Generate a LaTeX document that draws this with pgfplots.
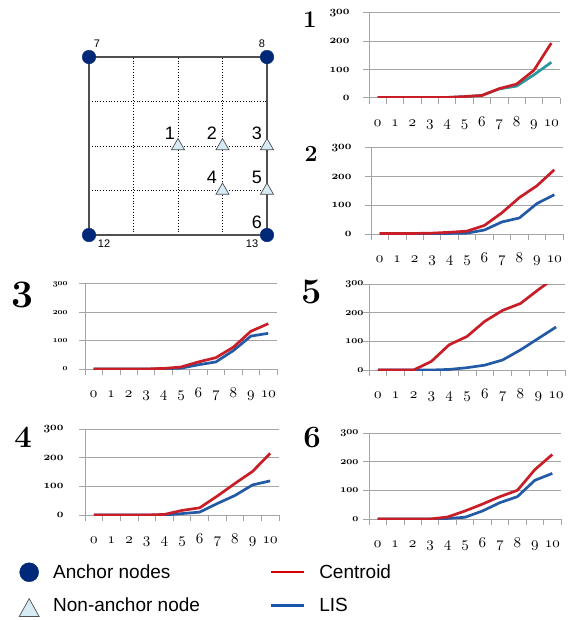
\documentclass[border=0pt]{standalone}
\usepackage{pgfplots}
\pgfplotsset{compat=1.18}
\usepackage{pgfplotstable}
\usepackage{fontspec}
\newfontfamily\arial{Liberation Sans}
\definecolor{cred}{RGB}{200,30,40}
\definecolor{cblue}{RGB}{35,90,165}
\definecolor{cteal}{RGB}{40,150,160}
\definecolor{lred}{RGB}{215,0,0}
\definecolor{lblue}{RGB}{25,85,170}
\definecolor{anch}{RGB}{0,40,120}
\definecolor{trif}{RGB}{215,235,245}
\definecolor{trid}{RGB}{80,80,80}
\definecolor{gridc}{RGB}{165,165,165}
\font\osX=cmmi10 at 15pt
\font\osYa=cmmib10 at 11.5pt
\font\osYc=cmmib10 at 8.5pt
\font\osYe=cmmib10 at 10.5pt

\pgfplotstableread{
x c l
0 2 2
1 2 2
2 2 2
3 2 2
4 2 2
5 5 5
6 9 9
7 33 32
8 49 42
9 98 82
10 194 126
}\dataA
\pgfplotstableread{
x c l
0 2 0
1 2 0
2 2 0
3 3 1
4 6 2
5 10 3
6 30 14
7 74 42
8 127 56
9 168 106
10 224 137
}\dataB
\pgfplotstableread{
x c l
0 0 0
1 0 0
2 0 0
3 0 0
4 2 1
5 7 3
6 25 15
7 40 25
8 77 65
9 133 116
10 160 126
}\dataC
\pgfplotstableread{
x c l
0 0 0
1 0 0
2 0 0
3 0 0
4 2 0
5 16 5
6 25 10
7 66 40
8 110 68
9 152 105
10 215 119
}\dataD
\pgfplotstableread{
x c l
0 0 0
1 0 0
2 0 0
3 30 0
4 88 2
5 117 8
6 170 17
7 208 35
8 232 70
9 280 110
10 325 150
}\dataE
\pgfplotstableread{
x c l
0 0 0
1 0 0
2 0 0
3 0 0
4 7 2
5 28 6
6 52 28
7 78 57
8 100 78
9 172 135
10 225 159
}\dataF

\pgfplotsset{
  panel/.style={
    scale only axis, anchor=south west,
    xmin=-0.5, xmax=10.5, ymin=0, ymax=300,
    axis x line*=bottom, axis y line*=left,
    axis line style={-, gridc, line width=1pt},
    xtick={0,...,10},
    xticklabels={0,1,2,3,4,5,6,7,8,9,10},
    minor xtick={-0.5,0.5,...,10.5},
    ytick={0,100,200,300},
    yticklabels={0,100,200,300},
    tick align=outside, major tick length=6pt, minor tick length=6pt,
    major x tick style={draw=none},
    minor x tick style={gridc, line width=0.8pt},
    major y tick style={gridc, line width=1pt},
    ymajorgrids, grid style={gridc, line width=1pt},
    xticklabel style={font=\osX, text height=7pt, text depth=3pt, yshift=-12pt},
    line join=round,
  },
  cen/.style={cred, line width=2.7pt},
  lis/.style={cblue, line width=2.7pt},
}

\begin{document}
\begin{tikzpicture}
\path[use as bounding box] (0pt,0pt) rectangle (569pt,-620pt);

% ---------- grid diagram ----------
\begin{axis}[at={(89pt,-235pt)}, anchor=south west, scale only axis,
  width=178pt, height=178pt, xmin=0, xmax=4, ymin=0, ymax=4,
  hide axis, clip=false,
  legend columns=2,
  legend style={draw=none, fill=none, inner sep=0pt,
    font=\arial\fontsize{19}{22}\selectfont,
    at={(axis description cs:-0.399,-1.839)}, anchor=north west,
    /tikz/every even column/.append style={column sep=68pt},
    row sep=14pt},
  legend cell align=left]
\addplot[forget plot, black, dotted, line width=0.8pt] coordinates {(1,0) (1,4)};
\addplot[forget plot, black, dotted, line width=0.8pt] coordinates {(2,0) (2,4)};
\addplot[forget plot, black, dotted, line width=0.8pt] coordinates {(3,0) (3,4)};
\addplot[forget plot, black, dotted, line width=0.8pt] coordinates {(0,1) (4,1)};
\addplot[forget plot, black, dotted, line width=0.8pt] coordinates {(0,2) (4,2)};
\addplot[forget plot, black, dotted, line width=0.8pt] coordinates {(0,3) (4,3)};
\addplot[forget plot, trid, line width=1.3pt] coordinates {(0,0) (4,0) (4,4) (0,4) (0,0)};
\addplot[forget plot, only marks, mark=*, mark size=6.8pt, anch, mark options={draw=anch, fill=anch}]
  coordinates {(0,0) (4,0) (0,4) (4,4)};
\addplot[forget plot, only marks, mark=triangle*, mark size=7.5pt,
  mark options={draw=trid, fill=trif, line width=0.7pt}]
  coordinates {(2,2) (3,2) (4,2) (3,1) (4,1)};
\addlegendimage{legend image code/.code={\fill[anch] (11pt,0pt) circle[radius=9.5pt]; \path[draw=none,fill=none] (0pt,0pt) -- (33pt,0pt);}}
\addlegendimage{legend image code/.code={\draw[lred, line width=2.5pt] (0pt,0pt) -- (33pt,0pt); \path[draw=none,fill=none] (0pt,0pt) -- (46pt,0pt);}}
\addlegendimage{legend image code/.code={\draw[trid, fill=trif, line width=0.7pt] (1pt,-11pt) -- (21pt,-11pt) -- (11pt,7pt) -- cycle; \path[draw=none,fill=none] (0pt,0pt) -- (33pt,0pt);}}
\addlegendimage{legend image code/.code={\draw[lblue, line width=2.5pt] (0pt,0pt) -- (33pt,0pt); \path[draw=none,fill=none] (0pt,0pt) -- (46pt,0pt);}}
\legend{Anchor nodes, Centroid, Non-anchor node, LIS}
\end{axis}

\begin{scope}[font=\arial]
\node[font=\arial\fontsize{11}{12}\selectfont] at (97pt,-44pt) {7};
\node[font=\arial\fontsize{11}{12}\selectfont] at (262pt,-44pt) {8};
\node[font=\arial\fontsize{11}{12}\selectfont] at (104pt,-244pt) {12};
\node[font=\arial\fontsize{11}{12}\selectfont] at (252pt,-244pt) {13};
\node[font=\arial\fontsize{18}{20}\selectfont] at (170pt,-133pt) {1};
\node[font=\arial\fontsize{18}{20}\selectfont] at (212pt,-133pt) {2};
\node[font=\arial\fontsize{18}{20}\selectfont] at (257pt,-133pt) {3};
\node[font=\arial\fontsize{18}{20}\selectfont] at (212pt,-177pt) {4};
\node[font=\arial\fontsize{18}{20}\selectfont] at (257pt,-177pt) {5};
\node[font=\arial\fontsize{18}{20}\selectfont] at (257pt,-222pt) {6};
\end{scope}

% ---------- panel 1 ----------
\begin{axis}[panel, at={(369pt,-98pt)}, width=191pt, height=85pt,
  yticklabel style={font=\osYa, xshift=-10pt}]
\addplot[lis, color=cteal] table[x=x, y=l] {\dataA};
\addplot[cen] table[x=x, y=c] {\dataA};
\end{axis}
\node[font=\bfseries\fontsize{24}{28}\selectfont] at (310pt,-20pt) {1};

% ---------- panel 2 ----------
\begin{axis}[panel, at={(371pt,-234pt)}, width=192pt, height=86pt,
  yticklabel style={font=\osYa, xshift=-10pt}]
\addplot[lis] table[x=x, y=l] {\dataB};
\addplot[cen] table[x=x, y=c] {\dataB};
\end{axis}
\node[font=\bfseries\fontsize{23}{28}\selectfont] at (311pt,-154pt) {2};

% ---------- panel 3 ----------
\begin{axis}[panel, at={(85pt,-369pt)}, width=192pt, height=85pt,
  yticklabel style={font=\osYc, xshift=-8pt}]
\addplot[lis] table[x=x, y=l] {\dataC};
\addplot[cen] table[x=x, y=c] {\dataC};
\end{axis}
\node[font=\bfseries\fontsize{39}{44}\selectfont] at (22pt,-295pt) {3};

% ---------- panel 5 ----------
\begin{axis}[panel, at={(369pt,-370pt)}, width=196pt, height=86pt,
  yticklabel style={font=\osYe, xshift=4pt}]
\addplot[lis] table[x=x, y=l] {\dataE};
\addplot[cen] table[x=x, y=c] {\dataE};
\end{axis}
\node[font=\bfseries\fontsize{36}{40}\selectfont] at (312pt,-292pt) {5};

% ---------- panel 4 ----------
\begin{axis}[panel, at={(85pt,-515pt)}, width=194pt, height=86pt,
  yticklabel style={font=\osYa, xshift=-12pt}]
\addplot[lis] table[x=x, y=l] {\dataD};
\addplot[cen] table[x=x, y=c] {\dataD};
\end{axis}
\node[font=\bfseries\fontsize{31}{36}\selectfont] at (23pt,-437pt) {4};

% ---------- panel 6 ----------
\begin{axis}[panel, at={(369pt,-519pt)}, width=192pt, height=86pt,
  yticklabel style={font=\osYe, xshift=-1pt}]
\addplot[lis] table[x=x, y=l] {\dataF};
\addplot[cen] table[x=x, y=c] {\dataF};
\end{axis}
\node[font=\bfseries\fontsize{31}{36}\selectfont] at (312pt,-438pt) {6};

\end{tikzpicture}
\end{document}
